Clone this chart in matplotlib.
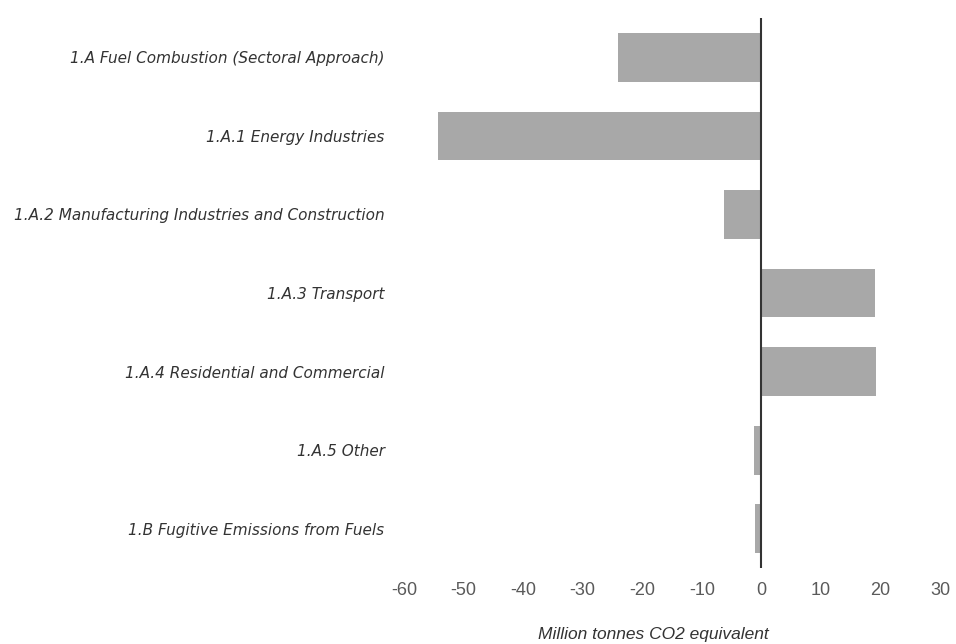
import matplotlib
matplotlib.use('Agg')
import matplotlib.pyplot as plt

# emission change by sector
categories = ['1.A Fuel Combustion (Sectoral Approach)',
              '1.A.1 Energy Industries',
              '1.A.2 Manufacturing Industries and Construction',
              '1.A.3 Transport',
              '1.A.4 Residential and Commercial',
              '1.A.5 Other',
              '1.B Fugitive Emissions from Fuels']
values = [-24.0, -54.3, -6.2, 19.0, 19.2, -1.3, -1.0]
xticks = [-60, -50, -40, -30, -20, -10, 0, 10, 20, 30]

plt.rcParams['font.family'] = ['Liberation Sans', 'DejaVu Sans']

fig = plt.figure(figsize=(9.56, 6.44), dpi=100)
ax = fig.add_axes([0.4226, 0.118, 0.5607, 0.854])

ax.barh(range(len(categories)), values, height=0.62, color='#a8a8a8')
ax.axvline(0, color='#333333', lw=1.5)

ax.set_xlim(-60, 30)
ax.set_ylim(len(categories) - 0.5, -0.5)
ax.set_xticks(xticks)
ax.set_xticklabels([str(t) for t in xticks], fontsize=13, color='#5a5a5a')
ax.set_yticks(range(len(categories)))
ax.set_yticklabels(categories, fontsize=11, style='italic', color='#333333',
                   family='DejaVu Sans')
ax.tick_params(axis='x', length=0, pad=10)
ax.tick_params(axis='y', length=0, pad=14)
for s in ax.spines.values():
    s.set_visible(False)
ax.set_xlabel('Million tonnes CO2 equivalent', fontsize=12.5, style='italic',
              color='#333333')
ax.xaxis.set_label_coords(0.465, -0.107)

plt.savefig('out.png', dpi=100)
plt.close()
